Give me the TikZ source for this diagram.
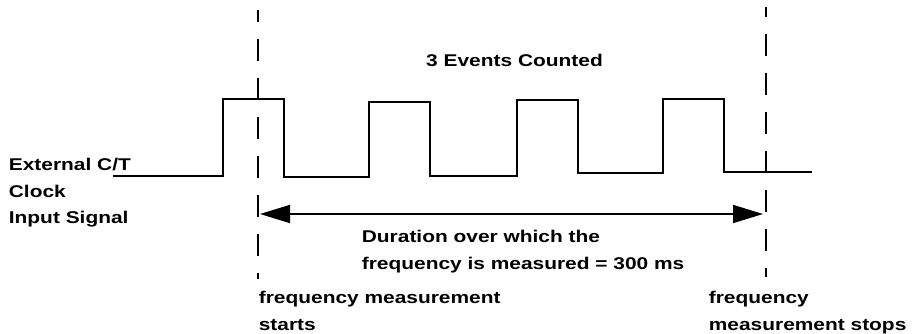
\documentclass[tikz,border=0pt]{standalone}
\usepackage{fontspec}
\setmainfont{Liberation Sans}[FakeStretch=1.23]
\usetikzlibrary{arrows.meta, positioning}

\begin{document}
\begin{tikzpicture}[x=0.75pt, y=-0.75pt, line width=1.3pt,
    >={Triangle[length=22.5pt, width=13.5pt]},
    marker/.style={line width=1.4pt, dash pattern=on 16.5pt off 12.75pt},
    lbl/.style={inner sep=0pt, align=left, font=\fontsize{12.75}{19.9}\selectfont\bfseries}]
    \useasboundingbox (0,0) rectangle (913,334);

    % --- Positions ---
    \coordinate (starttop) at (258,10);
    \coordinate (startbot) at (258,279);
    \coordinate (stoptop) at (766,7);
    \coordinate (stopbot) at (766,277);
    \coordinate (durL) at (260,214);
    \coordinate (durR) at (763,214);

    % --- Clock signal ---
    \draw (113,176) -- (223,176) -- (223,99) -- (284,99) -- (284,177)
      -- (369,177) -- (369,102) -- (430,102) -- (430,176)
      -- (517,176) -- (517,100) -- (578,100) -- (578,173)
      -- (663,173) -- (663,99) -- (724,99) -- (724,172) -- (812,172);

    % --- Dashed start / stop lines ---
    \draw[marker, dash phase=7.5pt] (starttop) -- (startbot);
    \draw[marker, dash phase=9pt] (stoptop) -- (stopbot);

    % --- Duration arrow ---
    \draw[<->] (durL) -- (durR);

    % --- Labels ---
    \node[lbl, anchor=base] (counted) at (514.5,67) {3 Events Counted};
    \node[lbl, anchor=north west] (signal) at (8,157.6)
      {External C/T\\Clock\\Input Signal};
    \node[lbl, anchor=north west] (duration) at (361,229.6)
      {Duration over which the\\frequency is measured = 300 ms};
    \node[lbl, anchor=north west] (starts) at (258,290.6)
      {frequency measurement\\starts};
    \node[lbl, anchor=north west] (stops) at (708,290.6)
      {frequency\\measurement stops};
\end{tikzpicture}
\end{document}
